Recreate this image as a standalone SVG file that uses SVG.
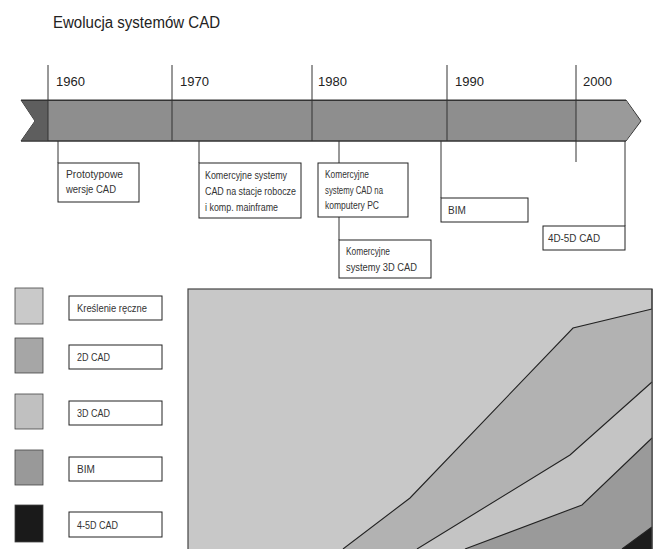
<svg xmlns="http://www.w3.org/2000/svg" width="656" height="549" viewBox="0 0 656 549">
<style>
.t{font-family:"Liberation Sans",Arial,sans-serif;fill:#222}
.yr{font-size:13px}
.bx{fill:#fff;stroke:#222;stroke-width:1}
.bt{font-family:"Liberation Sans",Arial,sans-serif;font-size:10px;fill:#333}
.ln{stroke:#333;stroke-width:1;fill:none}
.cl{stroke:#222;stroke-width:1.1;fill:none}
.sw{stroke:#444;stroke-width:0.8}
</style>
<rect width="656" height="549" fill="#fff"/>
<text class="t" x="53" y="28" font-size="16" textLength="167" lengthAdjust="spacingAndGlyphs">Ewolucja systemów CAD</text>

<g id="timeline">
<polygon points="21,100 626,100 641,121 626,141 21,141 35,121" fill="#8e8e8e" stroke="#333" stroke-width="1"/>
<polygon points="21.5,100.5 48,100.5 48,140.5 21.5,140.5 35,121" fill="#5e5e5e"/>
<polygon points="576,100.5 626,100.5 640,121 626,140.5 576,140.5" fill="#9a9a9a"/>
<line x1="21" y1="100.5" x2="626" y2="100.5" stroke="#333"/>
<line x1="21" y1="141" x2="626" y2="141" stroke="#333"/>
<g class="ln">
<line x1="48" y1="65" x2="48" y2="141"/>
<line x1="172" y1="65" x2="172" y2="141"/>
<line x1="312" y1="65" x2="312" y2="141"/>
<line x1="447" y1="65" x2="447" y2="141"/>
<line x1="576" y1="65" x2="576" y2="162"/>
</g>
<text class="t yr" x="56" y="86">1960</text>
<text class="t yr" x="180" y="86">1970</text>
<text class="t yr" x="318" y="86">1980</text>
<text class="t yr" x="455" y="86">1990</text>
<text class="t yr" x="583" y="86">2000</text>
</g>

<g id="connectors" class="ln">
<line x1="58" y1="141" x2="58" y2="163"/>
<line x1="199" y1="141" x2="199" y2="163"/>
<line x1="339" y1="141" x2="339" y2="163"/>
<line x1="339" y1="217" x2="339" y2="240"/>
<line x1="441" y1="141" x2="441" y2="198"/>
<line x1="625" y1="141" x2="625" y2="226"/>
</g>

<g id="n-prototypowe">
<rect class="bx" x="58" y="163" width="81" height="39"/>
<text class="bt" x="66" y="178" textLength="57" lengthAdjust="spacingAndGlyphs">Prototypowe</text>
<text class="bt" x="66" y="193" textLength="50" lengthAdjust="spacingAndGlyphs">wersje CAD</text>
</g>
<g id="n-stacje">
<rect class="bx" x="199" y="163" width="102" height="55"/>
<text class="bt" x="205" y="179" textLength="82" lengthAdjust="spacingAndGlyphs">Komercyjne systemy</text>
<text class="bt" x="205" y="195" textLength="91" lengthAdjust="spacingAndGlyphs">CAD na stacje robocze</text>
<text class="bt" x="205" y="211" textLength="73" lengthAdjust="spacingAndGlyphs">i komp. mainframe</text>
</g>
<g id="n-pc">
<rect class="bx" x="318" y="163" width="90" height="54"/>
<text class="bt" x="325" y="178" textLength="44" lengthAdjust="spacingAndGlyphs">Komercyjne</text>
<text class="bt" x="325" y="194" textLength="58" lengthAdjust="spacingAndGlyphs">systemy CAD na</text>
<text class="bt" x="325" y="209" textLength="54" lengthAdjust="spacingAndGlyphs">komputery PC</text>
</g>
<g id="n-3d">
<rect class="bx" x="339" y="240" width="92" height="38"/>
<text class="bt" x="346" y="255" textLength="44" lengthAdjust="spacingAndGlyphs">Komercyjne</text>
<text class="bt" x="346" y="271" textLength="71" lengthAdjust="spacingAndGlyphs">systemy 3D CAD</text>
</g>
<g id="n-bim">
<rect class="bx" x="441" y="198" width="87" height="24"/>
<text class="bt" x="448" y="214">BIM</text>
</g>
<g id="n-4d5d">
<rect class="bx" x="543" y="226" width="82" height="24"/>
<text class="bt" x="548" y="242" textLength="52" lengthAdjust="spacingAndGlyphs">4D-5D CAD</text>
</g>

<g id="legend">
<g id="l-reczne"><rect class="sw" x="15" y="288" width="28" height="36" fill="#c9c9c9"/><rect class="bx" x="69" y="296" width="93" height="24"/><text class="bt" x="77" y="312" textLength="70" lengthAdjust="spacingAndGlyphs">Kreślenie ręczne</text></g>
<g id="l-2d"><rect class="sw" x="15" y="338" width="28" height="35" fill="#a6a6a6"/><rect class="bx" x="69" y="345" width="93" height="24"/><text class="bt" x="77" y="361" textLength="33" lengthAdjust="spacingAndGlyphs">2D CAD</text></g>
<g id="l-3d"><rect class="sw" x="15" y="394" width="28" height="35" fill="#c0c0c0"/><rect class="bx" x="69" y="401" width="93" height="24"/><text class="bt" x="77" y="417" textLength="33" lengthAdjust="spacingAndGlyphs">3D CAD</text></g>
<g id="l-bim"><rect class="sw" x="15" y="450" width="28" height="35" fill="#999"/><rect class="bx" x="69" y="457" width="93" height="24"/><text class="bt" x="77" y="473">BIM</text></g>
<g id="l-45d"><rect class="sw" x="15" y="505" width="28" height="37" fill="#1a1a1a"/><rect class="bx" x="69" y="512" width="93" height="25"/><text class="bt" x="77" y="529" textLength="41" lengthAdjust="spacingAndGlyphs">4-5D CAD</text></g>
</g>

<g id="chart">
<rect x="188" y="289" width="464" height="262" fill="#c8c8c8" stroke="#444" stroke-width="1.2"/>
<polygon points="343,549 410,498 573,328 652,309 652,382 570,455 417,549" fill="#b2b2b2"/>
<polygon points="417,549 570,455 652,382 652,438 582,505 465,549" fill="#c4c4c4"/>
<polygon points="465,549 582,505 652,438 652,549" fill="#9a9a9a"/>
<polygon points="622,549 652,527 652,549" fill="#1c1c1c"/>
<polyline class="cl" points="343,549 410,498 573,328 652,309"/>
<polyline class="cl" points="417,549 570,455 652,382"/>
<polyline class="cl" points="465,549 582,505 652,438"/>
<polyline class="cl" points="622,549 652,527"/>
<line x1="652" y1="289" x2="652" y2="549" stroke="#444" stroke-width="1.2"/>
</g>
</svg>
